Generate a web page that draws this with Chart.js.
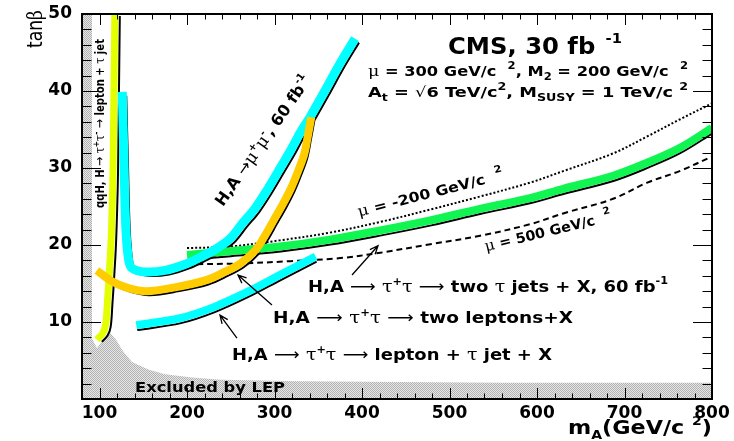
<!DOCTYPE html>
<html>
<head>
<meta charset="utf-8">
<script src="https://cdn.jsdelivr.net/npm/chart.js@4/dist/chart.umd.min.js"></script>
<style>
  html, body { margin: 0; padding: 0; background: #fff; }
  canvas { display: block; }
</style>
</head>
<body>
<canvas id="grafico" width="734" height="441"></canvas>
<script>
// ticks
const xTickValues = [100, 200, 300, 400, 500, 600, 700, 800];
const yTickValues = [10, 20, 30, 40, 50];
const xMinorStep = 20;
const yMinorStep = 2;

// region excluded by LEP (m_A, tanβ)
const lepX = [80, 91.4, 91.4, 97.1, 105, 112, 119, 125.7, 137, 156.6, 175, 205.7, 240, 329, 558, 800];
const lepY = [50, 50, 7.9, 6.6, 7.9, 8.6, 7.7, 6.4, 4.8, 3.8, 3.2, 2.8, 2.5, 2.3, 2.1, 2.1];

// qqH, H -> tau tau -> lepton + tau jet
const qqhX = [97, 103.5, 107, 109, 111, 113, 114.5, 115.5, 116.5, 117.5];
const qqhY = [7.7, 8.5, 9.6, 12.5, 16, 20, 25, 30, 40, 50];

// H,A -> mu mu, 60 fb-1
const mumuX = [126, 128, 130, 133, 137, 152, 175, 198, 215, 232, 249, 264, 278, 293, 306, 318, 329, 341, 357, 375, 392];
const mumuY = [39.9, 30.9, 22.5, 18.3, 17.0, 16.5, 16.7, 17.5, 18.4, 19.4, 20.8, 22.9, 24.8, 27.4, 29.9, 32.2, 34.5, 36.7, 39.9, 43.6, 46.8];

// H,A -> tau tau -> two leptons + X
const twoLepX = [97, 114, 133, 154, 186, 221, 243, 261, 278, 289, 299, 310, 319, 327, 334, 338, 342];
const twoLepY = [16.7, 15.3, 14.4, 14.0, 14.5, 15.4, 16.5, 17.6, 19.3, 21.2, 23.2, 25.4, 27.4, 29.6, 31.8, 34.1, 36.6];

// H,A -> tau tau -> lepton + tau jet + X
const lepTauX = [142, 192, 230, 269, 306, 347];
const lepTauY = [9.6, 10.5, 11.9, 13.9, 16.1, 18.5];

// H,A -> tau tau -> two tau jets + X, 60 fb-1
const twoTauX = [200, 249, 306, 363, 421, 478, 535, 592, 630, 687, 726, 763, 800];
const twoTauY = [18.7, 19.2, 19.8, 20.7, 21.9, 23.2, 24.7, 26.1, 27.3, 29.0, 30.7, 32.6, 35.2];

// mu = -200 GeV (dotted) and mu = 500 GeV (dashed)
const muNegX = [200, 249, 306, 363, 421, 478, 535, 592, 630, 687, 726, 763, 800];
const muNegY = [19.6, 19.8, 20.6, 21.6, 23.0, 24.6, 26.3, 28.1, 29.6, 31.9, 34.1, 36.3, 38.4];
const mu500X = [200, 261, 318, 375, 421, 478, 535, 592, 630, 687, 726, 763, 800];
const mu500Y = [17.5, 17.6, 17.9, 18.3, 19.0, 20.1, 21.2, 22.7, 24.1, 26.0, 28.1, 29.6, 31.5];

const pts = (xs, ys) => xs.map((x, i) => ({ x: x, y: ys[i] }));

function trama() {
    const c = document.createElement('canvas');
    c.width = 2; c.height = 2;
    const g = c.getContext('2d');
    g.fillStyle = '#e6e6e6'; g.fillRect(0, 0, 2, 2);
    g.fillStyle = '#b2b2b2'; g.fillRect(0, 0, 1, 1); g.fillRect(1, 1, 1, 1);
    return g.createPattern(c, 'repeat');
}

function banda(xs, ys, color, ancho) {
    return { data: pts(xs, ys), borderColor: color, borderWidth: ancho, tension: 0.35, fill: false, order: 1, borderCapStyle: 'butt' };
}
function sombra(xs, ys, dx, dy) {
    return { data: pts(xs, ys), borderColor: '#000', borderWidth: 2, tension: 0.35, fill: false, order: 10, shift: [dx, dy] };
}

// fuentes
const bold = s => 'bold ' + s + 'px "DejaVu Sans"';
const plain = s => s + 'px "DejaVu Sans"';
const greek = s => s + 'px "DejaVu Serif"';
const seg = (t, f, dy) => ({ t: t, f: f, dy: dy || 0 });

function rich(ctx, px, py, segs, o) {
    o = o || {};
    ctx.save();
    let nat = 0;
    segs.forEach(s => { ctx.font = s.f; nat += ctx.measureText(s.t).width; });
    const sx = o.w ? o.w / nat : 1;
    ctx.translate(px, py);
    if (o.rot) ctx.rotate(o.rot * Math.PI / 180);
    ctx.scale(sx, 1);
    let cx = o.align === 'right' ? -nat : 0;
    ctx.fillStyle = '#000';
    ctx.textBaseline = 'alphabetic';
    ctx.textAlign = 'left';
    segs.forEach(s => { ctx.font = s.f; ctx.fillText(s.t, cx, s.dy); cx += ctx.measureText(s.t).width; });
    ctx.restore();
}

function flecha(ctx, x0, y0, x1, y1) {
    const a = Math.atan2(y1 - y0, x1 - x0);
    ctx.beginPath();
    ctx.moveTo(x0, y0); ctx.lineTo(x1, y1);
    ctx.moveTo(x1 - 9 * Math.cos(a - 0.4), y1 - 9 * Math.sin(a - 0.4));
    ctx.lineTo(x1, y1);
    ctx.lineTo(x1 - 9 * Math.cos(a + 0.4), y1 - 9 * Math.sin(a + 0.4));
    ctx.stroke();
}

const fondo = {
    id: 'fondo',
    beforeDraw(chart) {
        const ctx = chart.ctx;
        ctx.save(); ctx.fillStyle = '#fff'; ctx.fillRect(0, 0, chart.width, chart.height); ctx.restore();
    }
};

// desplaza las lineas negras que acompañan a cada banda
const desplazar = {
    id: 'desplazar',
    beforeDatasetDraw(chart, args) {
        const s = chart.data.datasets[args.index].shift;
        if (s) { chart.ctx.save(); chart.ctx.translate(s[0], s[1]); }
    },
    afterDatasetDraw(chart, args) {
        if (chart.data.datasets[args.index].shift) chart.ctx.restore();
    }
};

// marco y ticks estilo ROOT (hacia dentro, en los cuatro lados)
const marco = {
    id: 'marco',
    afterDatasetsDraw(chart) {
        const { ctx, chartArea: a, scales: { x, y } } = chart;
        ctx.save();
        ctx.strokeStyle = '#000';
        ctx.lineWidth = 1;
        ctx.beginPath();
        for (let v = 80; v <= 800; v += xMinorStep) {
            const p = Math.round(x.getPixelForValue(v)) + 0.5;
            const L = v % 100 === 0 ? 11 : 5.5;
            ctx.moveTo(p, a.bottom); ctx.lineTo(p, a.bottom - L);
            ctx.moveTo(p, a.top); ctx.lineTo(p, a.top + L);
        }
        for (let v = 0; v <= 50; v += yMinorStep) {
            const p = Math.round(y.getPixelForValue(v)) + 0.5;
            const L = v % 10 === 0 ? 19 : 9.5;
            ctx.moveTo(a.left, p); ctx.lineTo(a.left + L, p);
            ctx.moveTo(a.right, p); ctx.lineTo(a.right - L, p);
        }
        ctx.stroke();
        ctx.lineWidth = 2;
        ctx.strokeRect(a.left, a.top, a.right - a.left, a.bottom - a.top);
        ctx.restore();
    }
};

const textos = {
    id: 'textos',
    afterDraw(chart) {
        const { ctx, chartArea: a, scales: { x, y } } = chart;
        const P = (u, v) => [x.getPixelForValue(u), y.getPixelForValue(v)];
        const tau = s => seg('τ', greek(s));
        const arr = s => seg('⟶', plain(s));

        rich(ctx, ...P(498.3, 44.8), [seg('CMS, 30 fb', bold(23)), seg('  -1', bold(14), -11)], { w: 174 });
        rich(ctx, ...P(406.9, 41.9), [seg('μ', greek(15)), seg(' = 300 GeV/c  ', bold(14)), seg('2', bold(10), -7),
            seg(', M', bold(14)), seg('2', bold(10), 4), seg(' = 200 GeV/c  ', bold(14)), seg('2', bold(10), -7)], { w: 320 });
        rich(ctx, ...P(406.9, 39.2), [seg('A', bold(14)), seg('t', bold(10), 4), seg(' = ', bold(14)), seg('√', plain(14)),
            seg('6 TeV/c', bold(14)), seg('2', bold(10), -7), seg(', M', bold(14)), seg('SUSY', bold(10), 4),
            seg(' = 1 TeV/c ', bold(14)), seg('2', bold(10), -7)], { w: 320 });

        rich(ctx, ...P(396.6, 23.7), [seg('μ', greek(15)), seg(' = -200 GeV/c  ', bold(14)), seg('2', bold(10), -8)], { w: 150, rot: -14.5 });
        rich(ctx, ...P(541.7, 19.2), [seg('μ', greek(15)), seg(' = 500 GeV/c  ', bold(14)), seg('2', bold(10), -8)], { w: 130, rot: -13.5 });

        rich(ctx, ...P(241, 24.9), [seg('H,A ', bold(16)), seg('→', plain(16)), seg('μ', greek(17)), seg('+', bold(10), -7),
            seg('μ', greek(17)), seg('-', bold(10), -7), seg(', 60 fb', bold(16)), seg('-1', bold(10), -8)], { w: 155, rot: -55 });

        rich(ctx, ...P(338.3, 13.9), [seg('H,A ', bold(16)), arr(16), seg(' ', bold(16)), tau(17), seg('+', bold(10), -7), tau(17),
            seg(' ', bold(16)), arr(16), seg(' two ', bold(16)), tau(17), seg(' jets + X, 60 fb', bold(16)), seg('-1', bold(10), -8)], { w: 360 });
        rich(ctx, ...P(298.3, 9.9), [seg('H,A ', bold(16)), arr(16), seg(' ', bold(16)), tau(17), seg('+', bold(10), -7), tau(17),
            seg(' ', bold(16)), arr(16), seg(' two leptons+X', bold(16))], { w: 300 });
        rich(ctx, ...P(251.4, 5.1), [seg('H,A ', bold(16)), arr(16), seg(' ', bold(16)), tau(17), seg('+', bold(10), -7), tau(17),
            seg(' ', bold(16)), arr(16), seg(' lepton + ', bold(16)), tau(17), seg(' jet + X', bold(16))], { w: 320 });

        rich(ctx, ...P(140.6, 0.97), [seg('Excluded by LEP', bold(14))], { w: 150 });

        rich(ctx, ...P(105.1, 24.8), [seg('qqH, H ', bold(12)), seg('→', plain(13)), seg(' ', bold(12)), seg('τ', greek(13)),
            seg('+', bold(9), -5), seg('τ', greek(13)), seg('-', bold(9), -5), seg(' ', bold(12)), seg('→', plain(13)), seg(' lepton + ', bold(12)),
            seg('τ', greek(13)), seg(' jet', bold(12))], { w: 169, rot: -90 });

        // titulos de ejes
        rich(ctx, a.left - 40, a.top + 34, [seg('tan', plain(21)), seg('β', greek(21))], { w: 38, rot: -90 });
        rich(ctx, a.right, a.bottom + 35, [seg('m', bold(19)), seg('A', bold(12), 5), seg('(GeV/c ', bold(19)),
            seg('2', bold(12), -9), seg(')', bold(19))], { w: 144, align: 'right' });

        // flechas
        ctx.save();
        ctx.strokeStyle = '#000';
        ctx.lineWidth = 1.3;
        flecha(ctx, ...P(388.6, 16.1), ...P(418.3, 19.9));
        flecha(ctx, ...P(297.1, 12.2), ...P(258.3, 16.1));
        flecha(ctx, ...P(257.1, 7.9), ...P(237.7, 10.9));
        ctx.restore();
    }
};

const ctx = document.getElementById('grafico').getContext('2d');

new Chart(ctx, {
    type: 'line',
    data: {
        datasets: [
            { data: pts(lepX, lepY), borderWidth: 0, borderColor: 'rgba(0,0,0,0)', backgroundColor: trama(), fill: 'origin', tension: 0, order: 20 },
            sombra(qqhX, qqhY, 5, 2),
            sombra(mumuX, mumuY, 4, 4),
            sombra(twoLepX, twoLepY, 3, 4),
            sombra(lepTauX, lepTauY, 1, 5),
            sombra(twoTauX, twoTauY, 1, 5),
            { data: pts(muNegX, muNegY), borderColor: '#000', borderWidth: 2, borderDash: [2, 2], tension: 0.35, fill: false, order: 8 },
            { data: pts(mu500X, mu500Y), borderColor: '#000', borderWidth: 2, borderDash: [6, 4], tension: 0.35, fill: false, order: 8 },
            banda(twoLepX, twoLepY, '#ffcc00', 8),
            banda(mumuX, mumuY, '#00ffff', 9),
            banda(lepTauX, lepTauY, '#00ffff', 8),
            banda(twoTauX, twoTauY, '#11f552', 8),
            banda(qqhX, qqhY, '#e4ff00', 7)
        ]
    },
    options: {
        responsive: false,
        devicePixelRatio: 1,
        animation: false,
        layout: { padding: { top: 14, right: 22, left: 0, bottom: 0 } },
        elements: { point: { radius: 0 } },
        plugins: { legend: { display: false }, tooltip: { enabled: false } },
        scales: {
            x: {
                type: 'linear', min: 80, max: 800,
                afterBuildTicks: s => { s.ticks = xTickValues.map(v => ({ value: v })); },
                afterFit: s => { s.height = 42; s.paddingLeft = 0; s.paddingRight = 0; },
                grid: { display: false, drawTicks: false },
                border: { display: false },
                ticks: { color: '#000', padding: 4, maxRotation: 0, font: { family: 'DejaVu Sans', weight: 'bold', size: 17 } }
            },
            y: {
                type: 'linear', min: 0, max: 50,
                afterBuildTicks: s => { s.ticks = yTickValues.map(v => ({ value: v })); },
                afterFit: s => { s.width = 82; s.paddingTop = 0; s.paddingBottom = 0; },
                grid: { display: false, drawTicks: false },
                border: { display: false },
                ticks: { color: '#000', padding: 10, font: { family: 'DejaVu Sans', weight: 'bold', size: 17 } }
            }
        }
    },
    plugins: [fondo, desplazar, marco, textos]
});
</script>
</body>
</html>
